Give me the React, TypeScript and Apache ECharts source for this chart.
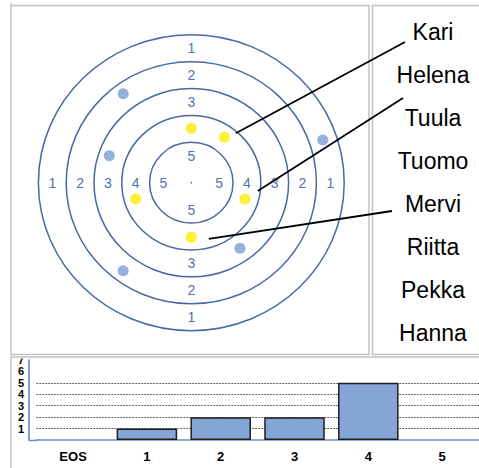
import React, { useEffect, useRef } from "react";
import * as echarts from "echarts";

// ---- data ----
const ringRadii = [1.5, 2.5, 3.5, 4.5, 5.5];
const ringScores = [5, 4, 3, 2, 1];
const ringLabelDist = [1, 2, 3, 4, 5];
const verticalLabelScores = [1, 2, 3, 5];

const yellowX = [0, 1.19, -2.0, 1.93, 0];
const yellowY = [2.02, 1.69, -0.61, -0.61, -2.03];
const blueX = [-2.45, 4.73, -2.95, 1.75, -2.45];
const blueY = [3.31, 1.59, 1.0, -2.44, -3.27];

const names = ["Kari", "Helena", "Tuula", "Tuomo", "Mervi", "Riitta", "Pekka", "Hanna"];
const leaderNames = ["Kari", "Tuula", "Mervi"];
const leaderFromX = [1.6, 2.39, 0.63];
const leaderFromY = [1.84, -0.31, -2.09];
const leaderToPx = [[405, 42], [403, 98], [392, 211]];

const barCategories = ["EOS", "1", "2", "3", "4", "5"];
const barValues = [0, 1, 2, 2, 5, 0];
const barYMax = 7;

const RING_COLOR = "#4a68a3";
const LABEL_COLOR = "#5273ab";
const FONT = '"Liberation Sans", Arial, sans-serif';

export default function App() {
  const ref = useRef<HTMLDivElement>(null);
  useEffect(() => {
    document.body.style.margin = "0";
    const chart = echarts.init(ref.current!, null, { renderer: "svg" });

    const ringLabelData: any[] = [];
    ringScores.forEach((s, i) => {
      const d = ringLabelDist[i];
      ringLabelData.push([-d, 0, String(s)]);
      ringLabelData.push([d, 0, String(s)]);
      if (verticalLabelScores.includes(s)) {
        ringLabelData.push([0, d, String(s)]);
        ringLabelData.push([0, -d, String(s)]);
      }
    });

    const option: any = {
      animation: false,
      backgroundColor: "#ffffff",
      grid: [
        { left: 10.6, width: 361.4, top: 7.85, height: 349.7 },
        { left: 36.2, right: -3, top: 360, height: 80 },
      ],
      xAxis: [
        { gridIndex: 0, type: "value", min: -6.5, max: 6.5, show: false },
        {
          gridIndex: 1,
          type: "category",
          data: barCategories,
          axisLine: { lineStyle: { color: "#6a8cc8", width: 1.5 } },
          axisTick: { show: false },
          axisLabel: {
            color: "#000",
            fontWeight: "bold",
            fontSize: 13,
            fontFamily: FONT,
            margin: 10,
          },
        },
      ],
      yAxis: [
        { gridIndex: 0, type: "value", min: -6.5, max: 6.5, show: false },
        {
          gridIndex: 1,
          type: "value",
          min: 0,
          max: barYMax,
          interval: 1,
          offset: 7,
          axisLine: { show: true, lineStyle: { color: "#5a7cc0", width: 1.5 } },
          axisTick: { show: false },
          axisLabel: {
            color: "#000",
            fontWeight: "bold",
            fontSize: 11,
            lineHeight: 11,
            fontFamily: FONT,
            margin: 5,
            formatter: (v: number) => (v === 0 ? "" : String(v)),
          },
          splitLine: {
            show: true,
            lineStyle: {
              type: [2, 1],
              width: 1,
              color: [
                "rgba(0,0,0,0)",
                "#666666",
                "#666666",
                "#666666",
                "#666666",
                "#666666",
                "rgba(0,0,0,0)",
                "rgba(0,0,0,0)",
              ],
            },
          },
        },
      ],
      series: [
        {
          type: "custom",
          xAxisIndex: 0,
          yAxisIndex: 0,
          clip: false,
          silent: true,
          data: ringRadii.map((r) => [r, 0]),
          encode: { x: 0, y: 1 },
          renderItem: (params: any, api: any) => {
            const r = api.value(0);
            const c = api.coord([0, 0]);
            const s = api.size([r, r]);
            return {
              type: "ellipse",
              shape: { cx: c[0], cy: c[1], rx: s[0], ry: s[1] },
              style: { fill: "none", stroke: RING_COLOR, lineWidth: 1.5 },
            };
          },
          z: 1,
        },
        {
          type: "custom",
          xAxisIndex: 0,
          yAxisIndex: 0,
          clip: false,
          silent: true,
          data: ringLabelData,
          encode: { x: 0, y: 1 },
          renderItem: (params: any, api: any) => {
            const c = api.coord([api.value(0), api.value(1)]);
            const item = ringLabelData[params.dataIndex];
            return {
              type: "text",
              x: c[0],
              y: c[1],
              style: {
                text: item[2],
                fill: LABEL_COLOR,
                fontSize: 14,
                fontFamily: FONT,
                align: "center",
                verticalAlign: "middle",
              },
            };
          },
          z: 2,
        },
        {
          type: "custom",
          xAxisIndex: 0,
          yAxisIndex: 0,
          clip: false,
          silent: true,
          data: [[0, 0]],
          renderItem: (params: any, api: any) => {
            const c = api.coord([0, 0]);
            return {
              type: "circle",
              shape: { cx: c[0], cy: c[1], r: 0.8 },
              style: { fill: LABEL_COLOR },
            };
          },
          z: 2,
        },
        {
          type: "scatter",
          xAxisIndex: 0,
          yAxisIndex: 0,
          symbolSize: 11,
          itemStyle: { color: "#ffec00" },
          data: yellowX.map((x, i) => [x, yellowY[i]]),
          z: 3,
        },
        {
          type: "scatter",
          xAxisIndex: 0,
          yAxisIndex: 0,
          symbolSize: 11,
          itemStyle: { color: "#7b9dd4" },
          data: blueX.map((x, i) => [x, blueY[i]]),
          z: 3,
        },
        {
          type: "bar",
          xAxisIndex: 1,
          yAxisIndex: 1,
          data: barValues.map((v) =>
            v === 0 ? { value: v, itemStyle: { borderWidth: 0, opacity: 0 } } : v
          ),
          barCategoryGap: "18%",
          itemStyle: { color: "#84a5d6", borderColor: "#1e1e1e", borderWidth: 1.5 },
        },
      ],
    };
    chart.setOption(option);

    const graphic: any[] = [];
    // cover above the bottom panel
    graphic.push({
      type: "rect",
      z: 100,
      shape: { x: 0, y: 340, width: 36, height: 18.5 },
      style: { fill: "#ffffff" },
    });
    // frames
    const frameStyle = { fill: "none", stroke: "#c3c3c3", lineWidth: 1.5 };
    graphic.push({ type: "rect", z: 101, shape: { x: 11, y: 5.5, width: 358, height: 349 }, style: frameStyle });
    graphic.push({ type: "rect", z: 101, shape: { x: 372.5, y: 5.5, width: 120, height: 349 }, style: frameStyle });
    graphic.push({ type: "rect", z: 101, shape: { x: 11, y: 357, width: 480, height: 130 }, style: frameStyle });
    graphic.push({ type: "line", z: 101, shape: { x1: 11, y1: 3, x2: 11, y2: 6 }, style: { stroke: "#c3c3c3", lineWidth: 1.5 } });

    // extend the bottom x-axis line to the y-axis line
    const origin = chart.convertToPixel({ gridIndex: 1 } as any, [0, 0]) as number[];
    graphic.push({
      type: "line",
      z: 50,
      shape: { x1: 29, y1: Math.round(origin[1]) + 0.5, x2: 37, y2: Math.round(origin[1]) + 0.5 },
      style: { stroke: "#6a8cc8", lineWidth: 1.5 },
    });

    names.forEach((n, i) => {
      graphic.push({
        type: "text",
        z: 102,
        x: 433,
        y: 32 + 43 * i,
        style: {
          text: n,
          fill: "#000",
          font: `23px ${FONT}`,
          align: "center",
          verticalAlign: "middle",
          textAlign: "center",
          textVerticalAlign: "middle",
        },
      });
    });

    leaderNames.forEach((n, i) => {
      const p = chart.convertToPixel({ gridIndex: 0 } as any, [leaderFromX[i], leaderFromY[i]]) as number[];
      const to = leaderToPx[i];
      graphic.push({
        type: "line",
        z: 102,
        shape: { x1: p[0], y1: p[1], x2: to[0], y2: to[1] },
        style: { stroke: "#000", lineWidth: 1.8 },
      });
    });

    chart.setOption({ graphic });

    return () => chart.dispose();
  }, []);
  return <div ref={ref} style={{ width: 479, height: 468 }} />;
}
